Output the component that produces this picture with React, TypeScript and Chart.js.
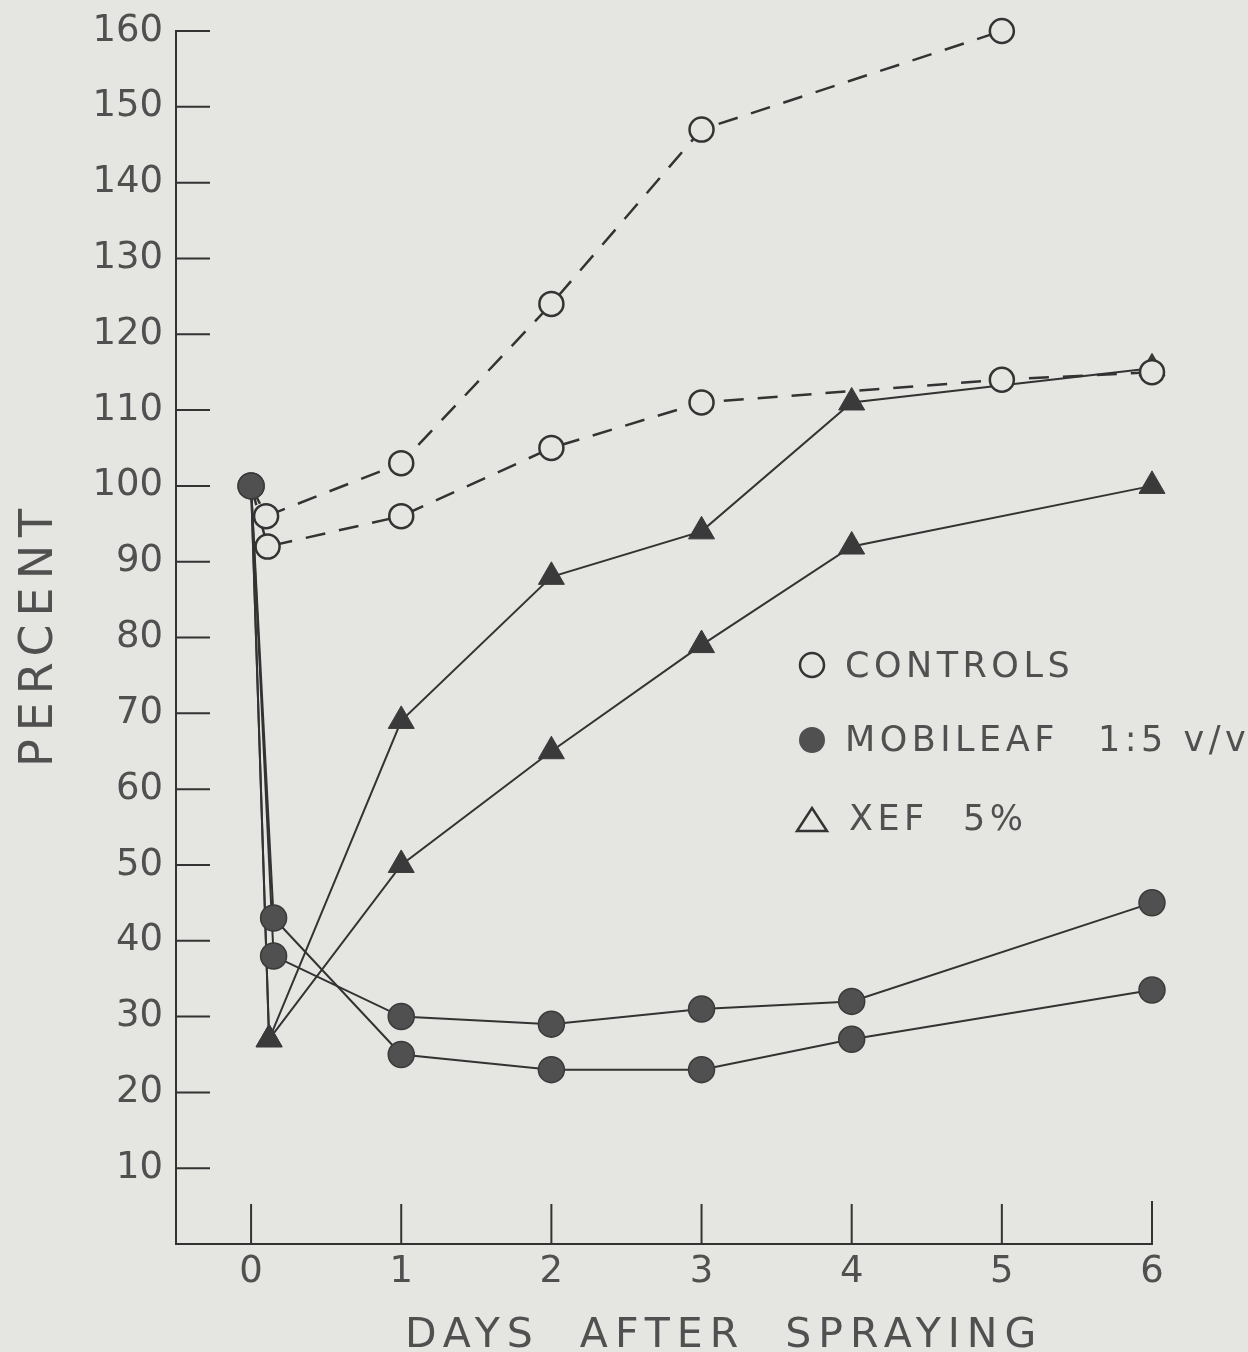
import React, { useEffect, useRef } from 'react';
import { Chart, registerables } from 'chart.js';

Chart.register(...registerables);

// ---- Data ----
const X_TICKS = [0, 1, 2, 3, 4, 5, 6];
const Y_TICKS = [10, 20, 30, 40, 50, 60, 70, 80, 90, 100, 110, 120, 130, 140, 150, 160];

const CONTROLS_A_DAYS = [0, 0.1, 1, 2, 3, 5];
const CONTROLS_A = [100, 96, 103, 124, 147, 160];
const CONTROLS_B_DAYS = [0, 0.11, 1, 2, 3, 5, 6];
const CONTROLS_B = [100, 92, 96, 105, 111, 114, 115];

const MOBILEAF_DAYS = [0, 0.15, 1, 2, 3, 4, 6];
const MOBILEAF_A = [100, 43, 25, 23, 23, 27, 33.5];
const MOBILEAF_B = [100, 38, 30, 29, 31, 32, 45];

const XEF_DAYS = [0, 0.12, 1, 2, 3, 4, 6];
const XEF_A = [100, 27, 69, 88, 94, 111, 115.5];
const XEF_B = [100, 27, 50, 65, 79, 92, 100];

const LEGEND_CONTROLS = ['CONTROLS'];
const LEGEND_MOBILEAF = ['MOBILEAF', '1:5 v/v'];
const LEGEND_XEF = ['XEF', '5%'];

const X_TITLE = 'DAYS  AFTER  SPRAYING';
const Y_TITLE = 'PERCENT';

// ---- Styles ----
const BG = '#e5e5e2';
const INK = '#333333';
const TEXT = '#505050';
const FONT = '"DejaVu Sans", sans-serif';

const pts = (xs: number[], ys: number[]) => xs.map((x, i) => ({ x, y: ys[i] }));

const firstHidden = (r: number) => (ctx: any) => (ctx.dataIndex === 0 ? 0 : r);

function controlsDs(xs: number[], ys: number[]) {
  return {
    data: pts(xs, ys),
    showLine: true,
    borderColor: INK,
    borderWidth: 2.5,
    borderDash: [20, 14],
    tension: 0,
    pointStyle: 'circle',
    pointRadius: firstHidden(12),
    pointBackgroundColor: BG,
    pointBorderColor: INK,
    pointBorderWidth: 2.5,
    clip: false,
    order: 1,
  };
}

function mobileafDs(xs: number[], ys: number[]) {
  return {
    data: pts(xs, ys),
    showLine: true,
    borderColor: INK,
    borderWidth: 2,
    tension: 0,
    pointStyle: 'circle',
    pointRadius: 13,
    pointBackgroundColor: '#505050',
    pointBorderColor: '#3a3a3a',
    pointBorderWidth: 1.5,
    clip: false,
    order: 0,
  };
}

function xefDs(xs: number[], ys: number[]) {
  return {
    data: pts(xs, ys),
    showLine: true,
    borderColor: INK,
    borderWidth: 2,
    tension: 0,
    pointStyle: 'triangle',
    pointRadius: firstHidden(15),
    pointBackgroundColor: '#3a3a3a',
    pointBorderColor: '#3a3a3a',
    pointBorderWidth: 1,
    clip: false,
    order: 2,
  };
}

const bgPlugin = {
  id: 'bg',
  beforeDraw(chart: any) {
    const { ctx, width, height } = chart;
    ctx.save();
    ctx.fillStyle = BG;
    ctx.fillRect(0, 0, width, height);
    ctx.restore();
  },
};

const innerTicksPlugin = {
  id: 'innerTicks',
  beforeDatasetsDraw(chart: any) {
    const { ctx } = chart;
    const xs = chart.scales.x;
    const ys = chart.scales.y;
    ctx.save();
    ctx.strokeStyle = INK;
    ctx.lineWidth = 2;
    const left = xs.left;
    const bottom = ys.bottom;
    Y_TICKS.forEach((v) => {
      const py = ys.getPixelForValue(v);
      ctx.beginPath();
      ctx.moveTo(left, py);
      ctx.lineTo(left + 34, py);
      ctx.stroke();
    });
    X_TICKS.forEach((v) => {
      const px = xs.getPixelForValue(v);
      ctx.beginPath();
      ctx.moveTo(px, bottom);
      ctx.lineTo(px, bottom - (v === 6 ? 43 : 40));
      ctx.stroke();
    });
    ctx.restore();
  },
};

const textPlugin = {
  id: 'texts',
  afterDraw(chart: any) {
    const { ctx } = chart;
    ctx.save();
    ctx.fillStyle = TEXT;
    ctx.textAlign = 'left';
    ctx.textBaseline = 'alphabetic';

    // X title
    ctx.font = `41px ${FONT}`;
    (ctx as any).letterSpacing = '7px';
    ctx.fillText(X_TITLE, 405, 1347);

    // Y title
    ctx.save();
    ctx.translate(52, 767);
    ctx.rotate(-Math.PI / 2);
    ctx.font = `46px ${FONT}`;
    (ctx as any).letterSpacing = '8px';
    ctx.fillText(Y_TITLE, 0, 0);
    ctx.restore();

    // Legend
    ctx.font = `35px ${FONT}`;
    (ctx as any).letterSpacing = '4.5px';
    ctx.fillText(LEGEND_CONTROLS[0], 845, 677);
    ctx.fillText(LEGEND_MOBILEAF[0], 845, 751);
    ctx.fillText(LEGEND_MOBILEAF[1], 1098, 751);
    ctx.fillText(LEGEND_XEF[0], 849, 830);
    ctx.fillText(LEGEND_XEF[1], 963, 830);

    ctx.strokeStyle = INK;
    ctx.lineWidth = 2.5;
    // open circle
    ctx.beginPath();
    ctx.arc(812, 665, 12, 0, Math.PI * 2);
    ctx.stroke();
    // filled circle
    ctx.beginPath();
    ctx.arc(812, 740, 13, 0, Math.PI * 2);
    ctx.fillStyle = '#505050';
    ctx.fill();
    // open triangle
    ctx.beginPath();
    ctx.moveTo(797, 831);
    ctx.lineTo(827, 831);
    ctx.lineTo(812, 808);
    ctx.closePath();
    ctx.stroke();
    ctx.restore();
  },
};

export default function App() {
  const ref = useRef<HTMLCanvasElement>(null);
  useEffect(() => {
    document.body.style.margin = '0';
    const chart = new Chart(ref.current as HTMLCanvasElement, {
      type: 'scatter',
      data: {
        datasets: [
          controlsDs(CONTROLS_A_DAYS, CONTROLS_A),
          controlsDs(CONTROLS_B_DAYS, CONTROLS_B),
          mobileafDs(MOBILEAF_DAYS, MOBILEAF_A),
          mobileafDs(MOBILEAF_DAYS, MOBILEAF_B),
          xefDs(XEF_DAYS, XEF_A),
          xefDs(XEF_DAYS, XEF_B),
        ] as any,
      },
      options: {
        animation: false,
        responsive: false,
        layout: { padding: { top: 31, right: 96, left: 0, bottom: 0 } },
        plugins: { legend: { display: false }, tooltip: { enabled: false } },
        scales: {
          x: {
            type: 'linear',
            min: -0.5,
            max: 6,
            afterBuildTicks: (s: any) => {
              s.ticks = X_TICKS.map((v) => ({ value: v }));
            },
            afterFit: (s: any) => {
              s.height = 108;
              s.paddingLeft = 0;
              s.paddingRight = 0;
            },
            grid: { display: false, drawTicks: false },
            border: { display: true, color: INK, width: 2 },
            ticks: {
              color: TEXT,
              font: { family: FONT, size: 37 },
              padding: 6,
              maxRotation: 0,
            },
          },
          y: {
            type: 'linear',
            min: 0,
            max: 160,
            afterBuildTicks: (s: any) => {
              s.ticks = Y_TICKS.map((v) => ({ value: v }));
            },
            afterFit: (s: any) => {
              s.width = 176;
              s.paddingTop = 0;
              s.paddingBottom = 0;
            },
            grid: { display: false, drawTicks: false },
            border: { display: true, color: INK, width: 2 },
            ticks: {
              color: TEXT,
              font: { family: FONT, size: 37 },
              padding: 13,
            },
          },
        },
      } as any,
      plugins: [bgPlugin, innerTicksPlugin, textPlugin],
    });
    return () => chart.destroy();
  }, []);
  return (
    <canvas
      ref={ref}
      width={1248}
      height={1352}
      style={{ display: 'block', width: 1248, height: 1352 }}
    />
  );
}
